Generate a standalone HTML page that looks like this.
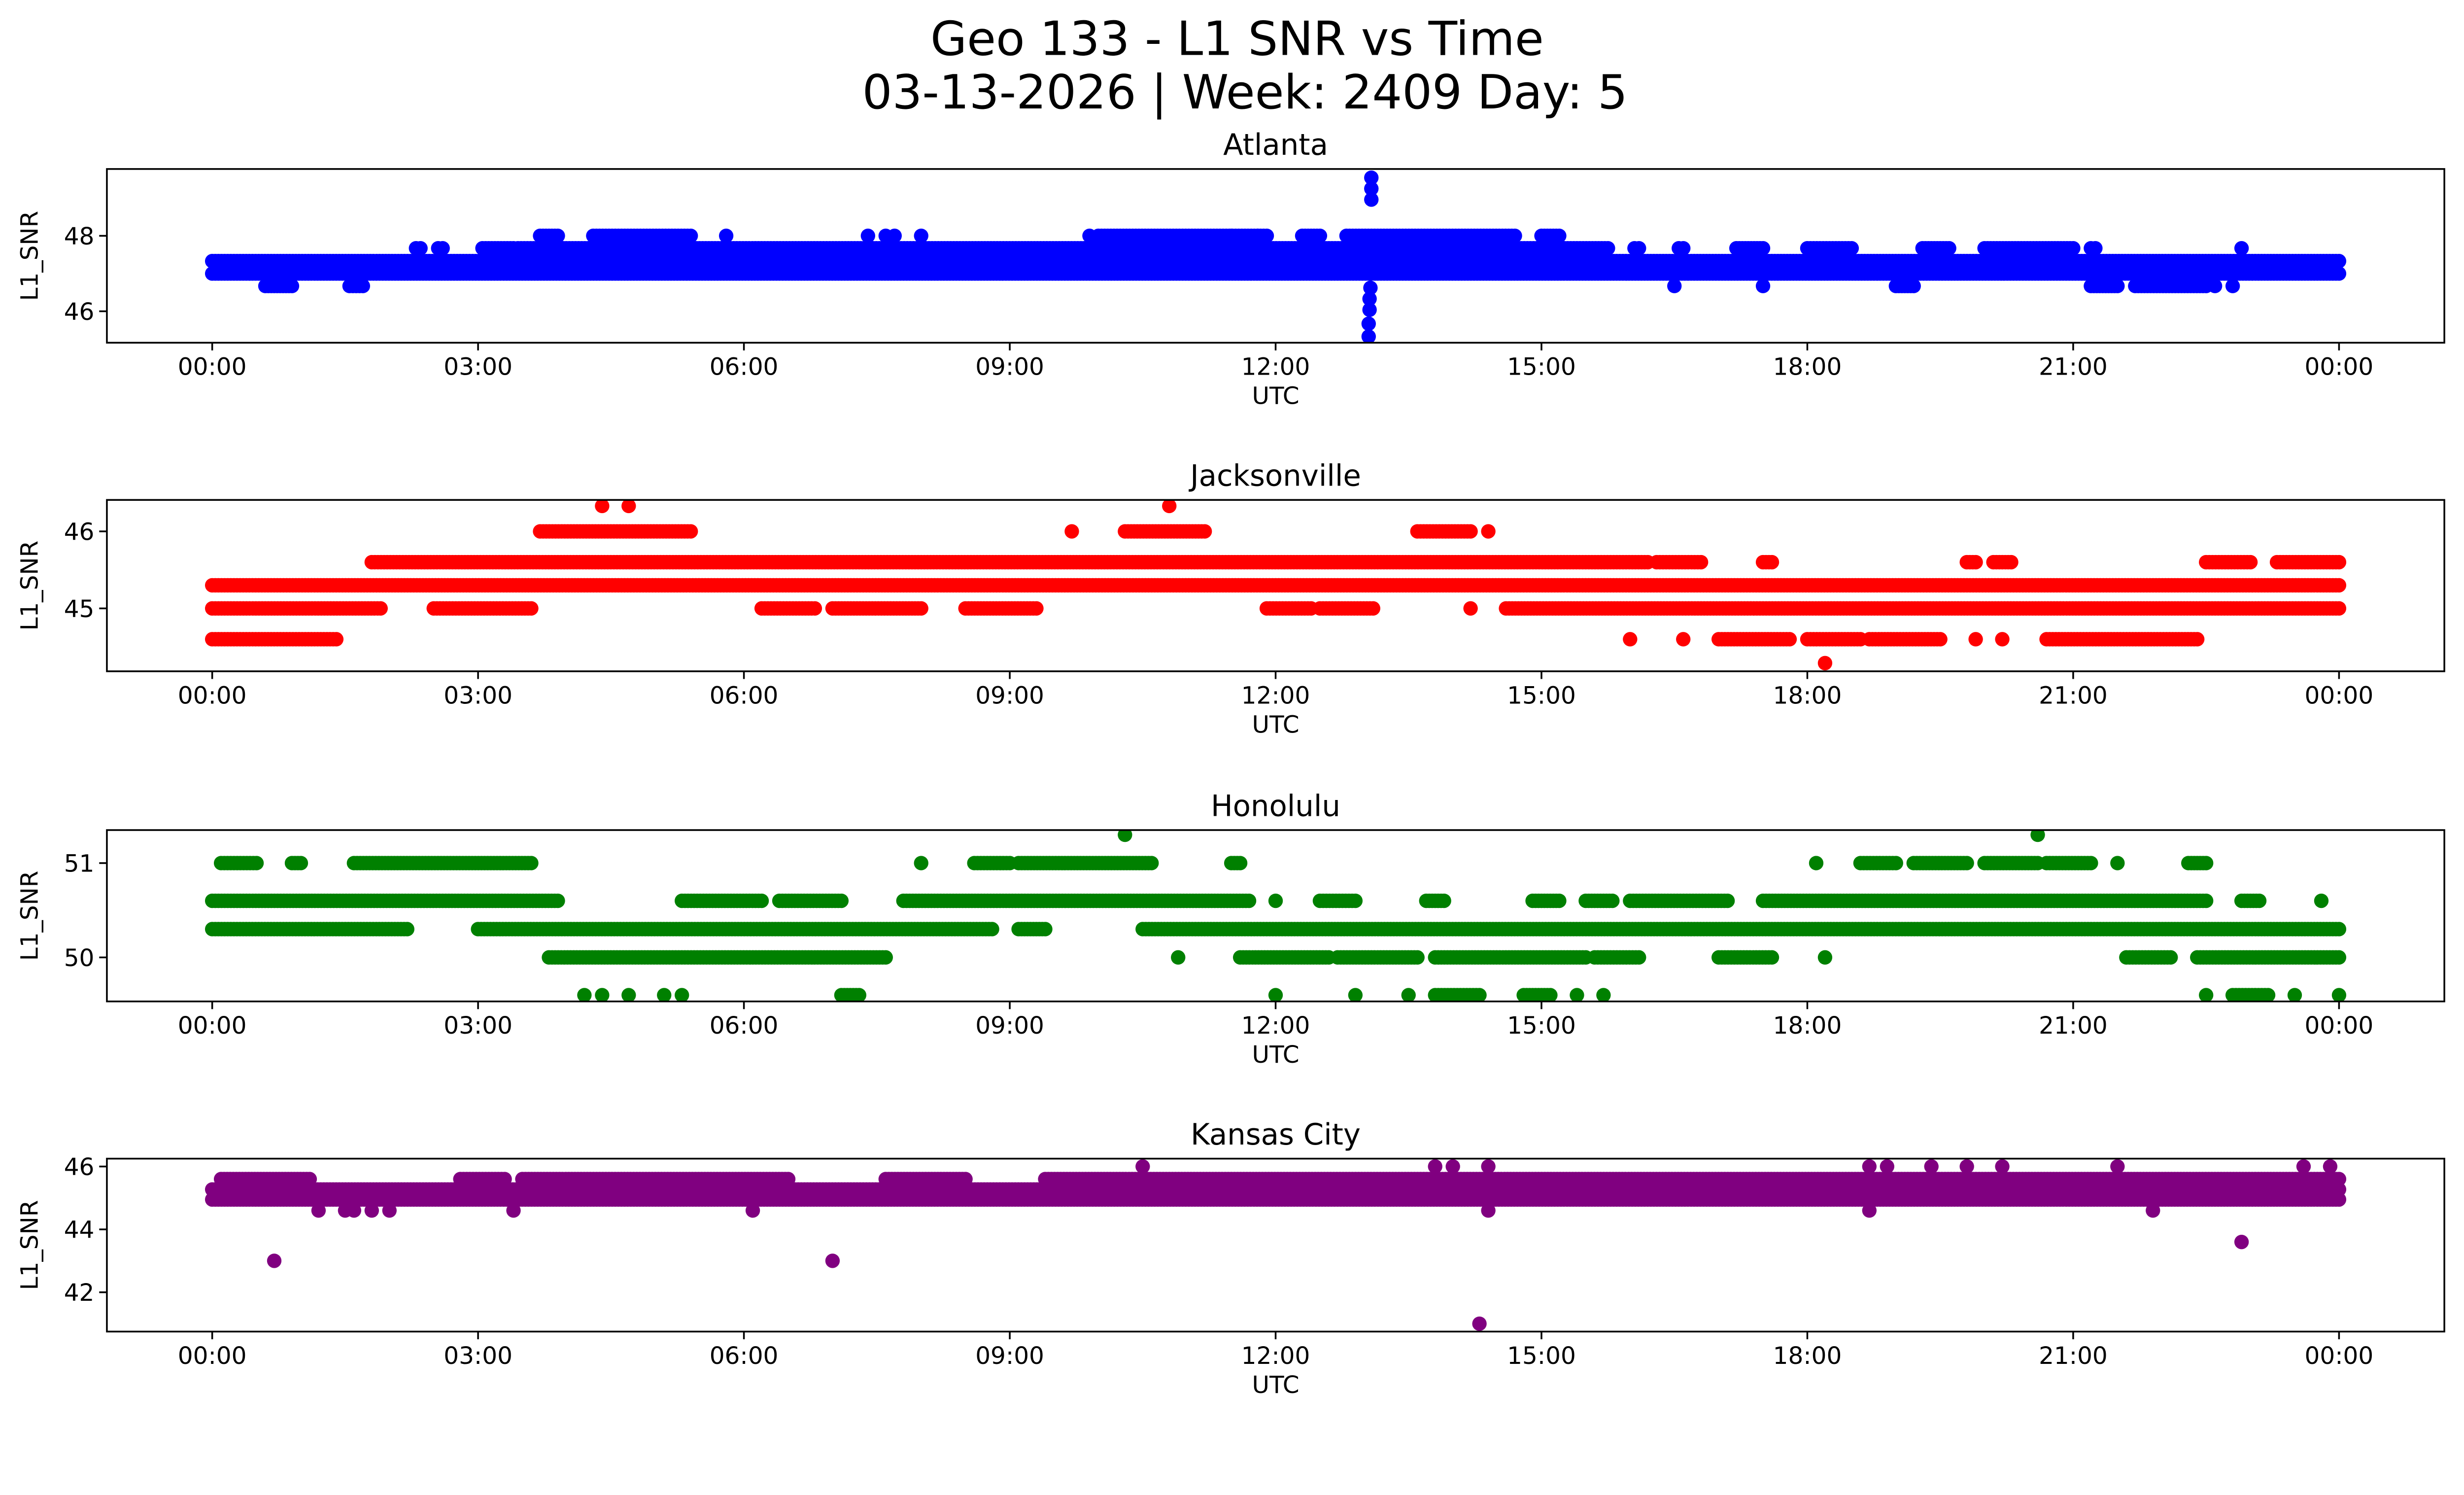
<!DOCTYPE html>
<html><head><meta charset="utf-8">
<style>
html,body{margin:0;padding:0;background:#fff;overflow:hidden;}
svg{display:block;width:100vw;height:calc(100vw * 0.580478);}
text{font-family:"DejaVu Sans","Liberation Sans",sans-serif;fill:#000;}
</style></head>
<body>
<svg id="fig" xmlns="http://www.w3.org/2000/svg" viewBox="0 0 1567.5 910" preserveAspectRatio="none">
<rect width="1567.5" height="910" fill="#fff"/>
<text x="787" y="35" font-size="30" text-anchor="middle">Geo 133 - L1 SNR vs Time</text>
<text x="792" y="69" font-size="30" text-anchor="middle">03-13-2026 | Week: 2409 Day: 5</text>
<g id="plots"></g>
</svg>
<script>
// shared x tick labels (hours)
const xTickHours = [0,3,6,9,12,15,18,21,24];
const xTickLabels = ["00:00","03:00","06:00","09:00","12:00","15:00","18:00","21:00","00:00"];

// Atlanta: dense segments [value, startHour, endHour] and single points [hour, value]
const atlSegments = [
 [47.0,0,24],[47.33,0,24],
 [47.67,2.3,2.35],[47.67,2.55,2.6],[47.67,3.05,3.4],[47.67,3.45,3.7],[47.67,3.75,15.75],
 [47.67,16.05,16.1],[47.67,16.55,16.6],[47.67,17.2,17.5],[47.67,18.0,18.5],[47.67,19.3,19.6],[47.67,20.0,21.0],[47.67,21.2,21.25],
 [48.0,3.7,3.9],[48.0,4.3,5.4],[48.0,10.0,11.9],[48.0,12.3,12.5],[48.0,12.8,14.7],[48.0,15.0,15.2],
 [46.67,0.6,0.9],[46.67,1.55,1.7],[46.67,19.0,19.2],[46.67,21.2,21.5],[46.67,21.7,22.5]
];
const atlPoints = [[5.8,48],[7.4,48],[7.6,48],[7.7,48],[8.0,48],[9.9,48],[11.5,48],[11.8,48],[16.5,46.67],[17.5,46.67],[22.8,46.67],[22.6,46.67],[22.9,47.67],
 [13.08,49.54],[13.08,49.25],[13.08,48.96],[13.07,47.0],[13.07,46.62],[13.06,46.33],[13.06,46.04],[13.05,45.67],[13.05,45.33]];

// Jacksonville
const jaxSegments = [
 [45.3,0,24],
 [45.0,0,1.9],[45.0,2.5,3.6],[45.0,6.2,6.8],[45.0,7.0,8.0],[45.0,8.5,9.3],[45.0,11.9,12.4],[45.0,12.5,13.1],[45.0,14.6,24],
 [45.6,1.8,16.2],[45.6,16.3,16.8],[45.6,17.5,17.6],[45.6,19.8,19.9],[45.6,20.1,20.3],[45.6,22.5,23.0],[45.6,23.3,24],
 [44.6,0,1.4],[44.6,17.0,17.8],[44.6,18.0,18.6],[44.6,18.7,19.5],[44.6,20.7,22.4],
 [46.0,3.7,5.4],[46.0,10.3,11.2],[46.0,13.6,14.2]
];
const jaxPoints = [[9.7,46.0],[14.4,46.0],[4.4,46.33],[4.7,46.33],[10.8,46.33],[18.2,44.29],[16.0,44.6],[16.6,44.6],[19.9,44.6],[20.2,44.6],[14.2,45.0]];

// Honolulu
const honSegments = [
 [50.6,0,3.9],[50.6,5.3,6.2],[50.6,6.4,7.1],[50.6,7.8,11.7],[50.6,12.5,12.9],[50.6,13.7,13.9],[50.6,14.9,15.2],[50.6,15.5,15.8],[50.6,16.0,17.1],[50.6,17.5,22.5],[50.6,22.9,23.1],
 [50.3,0,2.2],[50.3,3.0,8.8],[50.3,9.1,9.4],[50.3,10.5,24],
 [51.0,0.1,0.5],[51.0,0.9,1.0],[51.0,1.6,3.6],[51.0,8.6,9.0],[51.0,9.1,10.6],[51.0,11.5,11.6],[51.0,18.6,19.0],[51.0,19.2,19.8],[51.0,20.0,20.6],[51.0,20.7,21.2],[51.0,22.3,22.5],
 [50.0,3.8,7.6],[50.0,11.6,12.6],[50.0,12.7,13.6],[50.0,13.8,15.5],[50.0,15.6,16.1],[50.0,17.0,17.6],[50.0,21.6,22.1],[50.0,22.4,24],
 [49.6,7.1,7.3],[49.6,13.8,14.3],[49.6,14.8,15.1],[49.6,22.8,23.2]
];
const honPoints = [[8.0,51.0],[18.1,51.0],[21.5,51.0],[12.0,50.6],[23.8,50.6],[10.9,50.0],[18.2,50.0],
 [4.2,49.6],[4.4,49.6],[4.7,49.6],[5.1,49.6],[5.3,49.6],[12.0,49.6],[12.9,49.6],[13.5,49.6],[15.4,49.6],[15.7,49.6],[22.5,49.6],[23.5,49.6],[24.0,49.6],
 [10.3,51.3],[20.6,51.3]];

// Kansas City
const kcSegments = [
 [44.95,0,24],[45.27,0,24],
 [45.6,0.1,1.1],[45.6,2.8,3.3],[45.6,3.5,6.5],[45.6,7.6,8.5],[45.6,9.4,24]
];
const kcPoints = [[1.2,44.6],[1.5,44.6],[1.6,44.6],[1.8,44.6],[2.0,44.6],[3.4,44.6],[6.1,44.6],[14.4,44.6],[18.7,44.6],[21.9,44.6],
 [10.5,46.0],[13.8,46.0],[14.0,46.0],[14.4,46.0],[18.7,46.0],[18.9,46.0],[19.4,46.0],[19.8,46.0],[20.2,46.0],[21.5,46.0],[23.6,46.0],[23.9,46.0],
 [0.7,43.0],[7.0,43.0],[22.9,43.6],[14.3,41.0]];

const NS = "http://www.w3.org/2000/svg";
const axL = 68, axR = 1555;
const tx0 = 135, tx24 = 1488;
function xScale(h){ return tx0 + (tx24 - tx0) * h / 24; }

const panels = [
 {name:"atlanta", title:"Atlanta", color:"#0000ff", top:107.5, bottom:218, y1:48, py1:150, y2:46, py2:198, yTicks:[46,48], segs:atlSegments, pts:atlPoints},
 {name:"jacksonville", title:"Jacksonville", color:"#ff0000", top:318, bottom:427, y1:46, py1:338, y2:45, py2:387, yTicks:[45,46], segs:jaxSegments, pts:jaxPoints},
 {name:"honolulu", title:"Honolulu", color:"#008000", top:528, bottom:637, y1:51, py1:549, y2:50, py2:609, yTicks:[50,51], segs:honSegments, pts:honPoints},
 {name:"kansas-city", title:"Kansas City", color:"#800080", top:737, bottom:847, y1:46, py1:742, y2:42, py2:822, yTicks:[42,44,46], segs:kcSegments, pts:kcPoints}
];

function mk(tag, attrs, parent){
  const e = document.createElementNS(NS, tag);
  for (const k in attrs) e.setAttribute(k, attrs[k]);
  parent.appendChild(e);
  return e;
}

const root = document.getElementById("plots");
const R = 4.6, STEP = 0.035, TICKFS = 15.2;
panels.forEach(p => {
  const yScale = v => p.py1 + (v - p.y1) * (p.py2 - p.py1) / (p.y2 - p.y1);
  const g = mk("g", {}, root);
  
  
  const clipId = "clip-" + p.name;
  const cp = mk("clipPath", {id: clipId}, g);
  mk("rect", {x: axL, y: p.top, width: axR - axL, height: p.bottom - p.top}, cp);
  const marks = mk("g", {"clip-path": "url(#" + clipId + ")", fill: p.color}, g);
  
  
  p.segs.forEach(s => {
    const n = Math.max(1, Math.round((s[2] - s[1]) / STEP));
    for (let i = 0; i <= n; i++) {
      const h = s[1] + (s[2] - s[1]) * i / n;
      mk("circle", {cx: xScale(h).toFixed(2), cy: yScale(s[0]).toFixed(2), r: R}, marks);
    }
  });
  p.pts.forEach(pt => {
    const c = mk("circle", {cx: xScale(pt[0]).toFixed(2), cy: yScale(pt[1]).toFixed(2), r: R}, marks);
    
    
  });
  const frame = mk("rect", {x: axL, y: p.top, width: axR - axL, height: p.bottom - p.top, fill: "none", stroke: "#000", "stroke-width": 1.1}, g);
  
  
  xTickHours.forEach((h, i) => {
    const x = xScale(h);
    mk("line", {x1: x, x2: x, y1: p.bottom, y2: p.bottom + 4.9, stroke: "#000", "stroke-width": 1.1}, g);
    const t = mk("text", {x: x, y: p.bottom + 20.5, "font-size": TICKFS, "text-anchor": "middle"}, g);
    t.textContent = xTickLabels[i];
    
    
  });
  p.yTicks.forEach(v => {
    const y = yScale(v);
    mk("line", {x1: axL - 4.9, x2: axL, y1: y, y2: y, stroke: "#000", "stroke-width": 1.1}, g);
    const t = mk("text", {x: axL - 8, y: y + 5.5, "font-size": TICKFS, "text-anchor": "end"}, g);
    t.textContent = String(v);
    
    
  });
  const xl = mk("text", {x: (axL + axR) / 2, y: p.bottom + 39, "font-size": TICKFS, "text-anchor": "middle"}, g);
  xl.textContent = "UTC";
  
  
  const cy = (p.top + p.bottom) / 2;
  const yl = mk("text", {x: 24, y: cy, "font-size": TICKFS, "text-anchor": "middle", transform: "rotate(-90 24 " + cy + ")"}, g);
  yl.textContent = "L1_SNR";
  
  
  const tt = mk("text", {x: (axL + axR) / 2, y: p.top - 9, "font-size": 18.6, "text-anchor": "middle"}, g);
  tt.textContent = p.title;
  
  
});
</script>
</body></html>
